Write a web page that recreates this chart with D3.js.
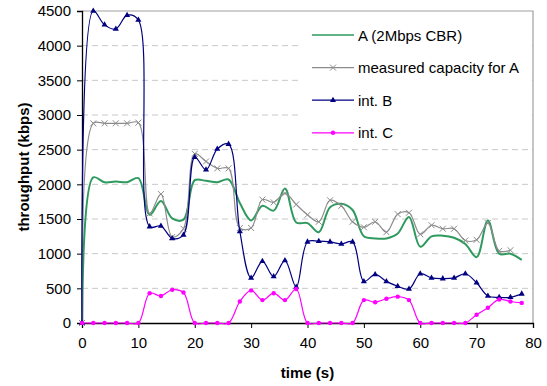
<!DOCTYPE html>
<html>
<head>
<meta charset="utf-8">
<script src="https://cdn.jsdelivr.net/npm/d3@7"></script>
<style>
  body { margin: 0; background: #fff; }
  svg text { font-family: "Liberation Sans", Arial, sans-serif; }
</style>
</head>
<body>
<div id="chart"></div>
<script>
// time axis (s), one sample every 2 s
const times = [0, 2, 4, 6, 8, 10, 12, 14, 16, 18, 20, 22, 24, 26, 28, 30, 32, 34, 36, 38,
               40, 42, 44, 46, 48, 50, 52, 54, 56, 58, 60, 62, 64, 66, 68, 70, 72, 74, 76, 78];

// throughput values (kbps)
const flowA = [0, 2100, 2030, 2040, 2030, 2090, 1560, 1760, 1510, 1490, 2060, 2050, 2030, 2070, 1730, 1480, 1690, 1620, 1940, 1450,
               1440, 1310, 1670, 1720, 1630, 1250, 1220, 1220, 1290, 1530, 1100, 1250, 1260, 1230, 1140, 950, 1480, 1000, 1000, 910];
const capacityA = [0, 2880, 2880, 2880, 2880, 2890, 1580, 1860, 1240, 1360, 2440, 2330, 2230, 2230, 1370, 1370, 1780, 1740, 1870, 1710,
                   1560, 1460, 1770, 1690, 1460, 1380, 1460, 1310, 1570, 1590, 1280, 1410, 1360, 1360, 1190, 1200, 1440, 1040, 1050];
const intB = [0, 4500, 4300, 4240, 4440, 4370, 1390, 1400, 1220, 1270, 2390, 2210, 2510, 2580, 1320, 650, 890, 670, 900, 520,
              1170, 1180, 1170, 1140, 1170, 600, 700, 600, 530, 490, 710, 650, 640, 650, 710, 580, 390, 370, 370, 420];
const intC = [0, 0, 0, 0, 0, 0, 430, 390, 480, 440, 0, 0, 0, 0, 310, 470, 330, 430, 330, 490,
              0, 0, 0, 0, 0, 330, 300, 350, 380, 330, 0, 0, 0, 0, 0, 120, 220, 340, 310, 290];

const seriesNames = ["A (2Mbps CBR)", "measured capacity for A", "int. B", "int. C"];
const xTicks = [0, 10, 20, 30, 40, 50, 60, 70, 80];
const yTicks = [0, 500, 1000, 1500, 2000, 2500, 3000, 3500, 4000, 4500];

function drawChart() {
    const margin = { top: 11, right: 14, bottom: 63, left: 82 };
    const width = 547 - margin.left - margin.right;
    const height = 386 - margin.top - margin.bottom;

    const svg = d3.select("#chart")
        .append("svg")
        .attr("width", width + margin.left + margin.right)
        .attr("height", height + margin.top + margin.bottom)
        .append("g")
        .attr("transform", `translate(${margin.left},${margin.top})`);

    const xScale = d3.scaleLinear().domain([0, 80]).range([0, width]);
    const yScale = d3.scaleLinear().domain([0, 4500]).range([height, 0]);

    // dashed gridlines
    svg.append("g")
        .selectAll("line")
        .data(yTicks.slice(1, -1))
        .enter()
        .append("line")
        .attr("x1", 0).attr("x2", width)
        .attr("y1", d => yScale(d)).attr("y2", d => yScale(d))
        .attr("stroke", "#c8c8c8")
        .attr("stroke-dasharray", "6,4");

    // grey frame on top and right
    svg.append("path")
        .attr("d", `M0,${yScale(4500)}H${width}V${height}`)
        .attr("fill", "none")
        .attr("stroke", "#a0a0a0")
        .attr("stroke-width", 1.2);

    // axes
    const xAxis = svg.append("g")
        .attr("transform", `translate(0,${height})`)
        .call(d3.axisBottom(xScale).tickValues(xTicks).tickSize(5).tickPadding(9).tickFormat(d3.format("d")));
    const yAxis = svg.append("g")
        .call(d3.axisLeft(yScale).tickValues(yTicks).tickSize(5).tickPadding(6).tickFormat(d3.format("d")));
    [xAxis, yAxis].forEach(ax => {
        ax.select(".domain").attr("stroke", "#000").attr("stroke-width", 1.3);
        ax.selectAll(".tick line").attr("stroke", "#000");
        ax.selectAll("text").attr("font-size", 15).attr("fill", "#000")
            .style("font-family", "'Liberation Sans', Arial, sans-serif");
    });

    svg.append("text")
        .attr("x", width / 2)
        .attr("y", height + 55)
        .attr("text-anchor", "middle")
        .attr("font-size", 15)
        .attr("font-weight", "bold")
        .text("time (s)");

    svg.append("text")
        .attr("transform", "rotate(-90)")
        .attr("x", -height / 2)
        .attr("y", -53)
        .attr("text-anchor", "middle")
        .attr("font-size", 15)
        .attr("font-weight", "bold")
        .text("throughput (kbps)");

    const line = d3.line()
        .x(d => xScale(d[0]))
        .y(d => yScale(d[1]))
        .curve(d3.curveCatmullRom.alpha(0.5));

    const xMark = "M-3,-3L3,3M-3,3L3,-3";
    const triMark = d3.symbol().type(d3.symbolTriangle).size(16)();

    const series = [
        { name: seriesNames[0], values: flowA, color: "#2e9a5e", width: 2, marker: null },
        { name: seriesNames[1], values: capacityA, color: "#8c8c8c", width: 1.2, marker: "x" },
        { name: seriesNames[2], values: intB, color: "#000080", width: 1.2, marker: "tri" },
        { name: seriesNames[3], values: intC, color: "#ff00ff", width: 1.2, marker: "dot" }
    ];

    function addMarker(sel, s) {
        if (s.marker === "x") {
            sel.append("path").attr("d", xMark).attr("stroke", s.color).attr("stroke-width", 1).attr("fill", "none");
        } else if (s.marker === "tri") {
            sel.append("path").attr("d", triMark).attr("fill", s.color);
        } else if (s.marker === "dot") {
            sel.append("circle").attr("r", 2.2).attr("fill", s.color);
        }
    }

    series.forEach(s => {
        const pts = s.values.map((v, i) => [times[i], v]);
        svg.append("path")
            .datum(pts)
            .attr("fill", "none")
            .attr("stroke", s.color)
            .attr("stroke-width", s.width)
            .attr("d", line);
        if (s.marker) {
            svg.append("g")
                .selectAll("g")
                .data(pts)
                .enter()
                .append("g")
                .attr("transform", d => `translate(${xScale(d[0])},${yScale(d[1])})`)
                .each(function () { addMarker(d3.select(this), s); });
        }
    });

    // legend
    const legend = svg.append("g").attr("transform", "translate(218,8)");
    legend.append("rect")
        .attr("x", 0).attr("y", 0)
        .attr("width", width - 219).attr("height", 126)
        .attr("fill", "#fff");
    series.forEach((s, i) => {
        const row = legend.append("g").attr("transform", `translate(12,${16 + i * 32.6})`);
        row.append("line")
            .attr("x1", 0).attr("x2", 42)
            .attr("stroke", s.color)
            .attr("stroke-width", s.width === 2 ? 1.5 : 1.2);
        if (s.marker) {
            const m = row.append("g").attr("transform", "translate(21,0)");
            addMarker(m, s);
        }
        row.append("text")
            .attr("x", 46)
            .attr("y", 5.5)
            .attr("font-size", 15)
            .text(s.name);
    });
}

drawChart();
</script>
</body>
</html>
